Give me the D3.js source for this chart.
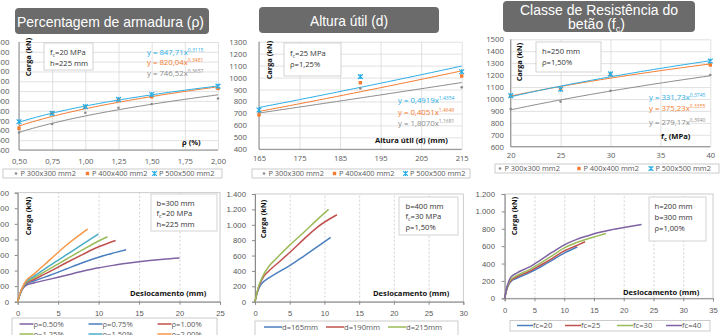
<!DOCTYPE html>
<html><head><meta charset="utf-8">
<script src="https://cdn.jsdelivr.net/npm/d3@7/dist/d3.min.js"></script>
<style>
html,body{margin:0;padding:0;background:#fff;overflow:hidden;}
svg{display:block;font-family:"Open Sans",sans-serif;}
</style></head><body>
<svg id="c" width="723" height="335"></svg>
<script>
// ---------------- DATA ----------------
const seriesNames = ["P 300x300 mm2", "P 400x400 mm2", "P 500x500 mm2"];

// Panel 1: reinforcement ratio
const rhoX = [0.5, 0.75, 1.0, 1.25, 1.5, 2.0];
const rhoP300 = [578, 665, 780, 830, 868, 925];
const rhoP400 = [622, 778, 835, 912, 942, 1027];
const rhoP500 = [688, 773, 842, 915, 965, 1050];
const rhoFitA = [746.52, 820.04, 847.71];
const rhoFitB = [0.3657, 0.3481, 0.3115];
const rhoEqMain = ["y = 746,52x", "y = 820,04x", "y = 847,71x"];
const rhoEqExp = ["0,3657", "0,3481", "0,3115"];
const rhoXTicks = [0.5, 0.75, 1.0, 1.25, 1.5, 1.75, 2.0];
const rhoYTicks = [400, 500, 600, 700, 800, 900, 1000, 1100, 1200, 1300, 1400, 1500];

// Panel 2: effective depth
const dX = [165, 190, 215];
const dP300 = [705, 910, 918];
const dP400 = [688, 957, 1013];
const dP500 = [729, 1008, 1049];
const dFitA = [1.8070, 0.4051, 0.4919];
const dFitB = [1.1681, 1.4646, 1.4354];
const dEqMain = ["y = 1,8070x", "y = 0,4051x", "y = 0,4919x"];
const dEqExp = ["1,1681", "1,4646", "1,4354"];
const dXTicks = [165, 175, 185, 195, 205, 215];
const dYTicks = [400, 500, 600, 700, 800, 900, 1000, 1100, 1200, 1300];

// Panel 3: concrete class
const fcX = [20, 25, 30, 40];
const fcP300 = [916, 978, 1068, 1201];
const fcP400 = [1025, 1080, 1203, 1285];
const fcP500 = [1028, 1081, 1210, 1318];
const fcFitA = [279.17, 375.23, 331.73];
const fcFitB = [0.3940, 0.3355, 0.3745];
const fcEqMain = ["y = 279,17x", "y = 375,23x", "y = 331,73x"];
const fcEqExp = ["0,3940", "0,3355", "0,3745"];
const fcXTicks = [20, 25, 30, 35, 40];
const fcYTicks = [600, 700, 800, 900, 1000, 1100, 1200, 1300, 1400, 1500];

// Panel 4: load-displacement, rho
const rhoCurveNames = ["ρ=0.50%", "ρ=0.75%", "ρ=1.00%", "ρ=1.25%", "ρ=1.50%", "ρ=2.00%"];
const rho050 = [[0,0],[0.3,100],[0.7,180],[1,208],[2,240],[4,290],[6,340],[8,390],[10,435],[12,470],[14,500],[16,525],[18,545],[20,560]];
const rho075 = [[0,0],[0.3,100],[0.7,188],[1,222],[2,265],[4,340],[6,420],[8,500],[10,572],[12,630],[13.4,668]];
const rho100 = [[0,0],[0.3,104],[0.7,194],[1,232],[2,285],[4,390],[6,500],[8,605],[10,705],[11,745],[12.1,785]];
const rho125 = [[0,0],[0.3,106],[0.7,200],[1,243],[2,305],[4,425],[6,545],[8,665],[10,780],[11.1,835]];
const rho150 = [[0,0],[0.3,108],[0.7,205],[1,253],[2,325],[4,465],[6,600],[8,735],[9.96,870]];
const rho200 = [[0,0],[0.3,110],[0.7,210],[1,265],[2,355],[4,540],[6,725],[8,885],[8.65,932]];
const dispXTicks25 = [0, 5, 10, 15, 20, 25];
const loadYTicks1400 = [0, 200, 400, 600, 800, 1000, 1200, 1400];

// Panel 5: load-displacement, d
const dCurveNames = ["d=165mm", "d=190mm", "d=215mm"];
const d165 = [[0,0],[0.3,110],[0.7,200],[1,240],[2,310],[3,365],[5,470],[7,590],[9,715],[10.9,835]];
const d190 = [[0,0],[0.3,120],[0.7,230],[1,290],[2,400],[3,480],[5,640],[7,810],[9,970],[11.8,1130]];
const d215 = [[0,0],[0.3,125],[0.7,245],[1,310],[2,460],[3,555],[5,735],[7,900],[9,1070],[10.6,1200]];
const dispXTicks30 = [0, 5, 10, 15, 20, 25, 30];

// Panel 6: load-displacement, fc
const fcCurveNames = ["fc=20", "fc=25", "fc=30", "fc=40"];
const fc20 = [[0,0],[0.3,90],[0.7,160],[1,190],[2,230],[4,290],[6,360],[8,440],[10,520],[12.2,590]];
const fc25 = [[0,0],[0.3,95],[0.7,170],[1,200],[2,245],[4,305],[6,380],[8,460],[10,545],[12,605],[13.5,650]];
const fc30 = [[0,0],[0.3,100],[0.7,180],[1,215],[2,260],[4,325],[6,405],[8,490],[10,580],[12,640],[14,685],[15.5,715],[17,745]];
const fc40 = [[0,0],[0.3,110],[0.7,200],[1,240],[2,290],[4,355],[6,440],[8,530],[10,615],[12,675],[14,720],[16,760],[18,790],[20,815],[23,850]];
const dispXTicks35 = [0, 5, 10, 15, 20, 25, 30, 35];
const loadYTicks1200 = [0, 200, 400, 600, 800, 1000, 1200];

// ---------------- STYLE ----------------
const C = {grey:"#8c8c8c", orange:"#f47b30", blue:"#29aee6",
  purple:"#7e62a3", eblue:"#4a7ebf", red:"#c0504d", green:"#9bbb59", teal:"#4bacc6", eorange:"#f79646"};
const markerCols = [C.grey, C.orange, C.blue];
const TXT = "#595959";
const svg = d3.select("#c");
const ptBR = d3.formatLocale({decimal:",", thousands:".", grouping:[3], currency:["",""]});
const fmtThou = ptBR.format(",");
const fmt2 = ptBR.format(".2f");

function writeParts(t, parts, subSize, subDy){
  let shifted = false;
  parts.forEach(p=>{
    const ts = t.append("tspan").text(p.t);
    if(p.sub){ ts.attr("dy", subDy).style("font-size", subSize+"px"); shifted = true; }
    else if(shifted){ ts.attr("dy", -subDy); shifted = false; }
  });
}

function titleBox(x0, x1, y0, y1, lines, size){
  svg.append("rect").attr("x",x0).attr("y",y0).attr("width",x1-x0).attr("height",y1-y0)
    .attr("rx",4).attr("fill","#6b6b6b");
  lines.forEach(ln=>{
    const t = svg.append("text").attr("x",ln.x).attr("y",ln.y)
      .attr("fill","#fff").style("font-family","'Liberation Sans',Arial,sans-serif").style("font-size",(ln.size||size)+"px")
      .attr("textLength", ln.w).attr("lengthAdjust","spacingAndGlyphs");
    writeParts(t, ln.parts, (ln.size||size)*0.65, 3);
  });
}

function annot(x0,y0,w,h,tx,lines){
  svg.append("rect").attr("x",x0).attr("y",y0).attr("width",w).attr("height",h)
    .attr("fill","#fff").attr("stroke","#c8c8c8").attr("stroke-width",0.8);
  lines.forEach(ln=>{
    const t = svg.append("text").attr("x",tx).attr("y",ln.y).attr("fill","#333").style("font-size","7.6px");
    writeParts(t, ln.parts, 5.2, 1.5);
  });
}

function yTitle(x, cy){
  svg.append("text").attr("transform",`translate(${x},${cy}) rotate(-90)`).attr("text-anchor","middle")
    .attr("fill","#111").style("font-size","7.4px").style("font-weight","bold").text("Carga (kN)");
}

function axesTop(x, y, xTicks, yTicks, xFmt, yLabelRight, xLabelY){
  const [xa,xb]=x.range(), [yb,ya]=y.range();
  const g = svg.append("g");
  g.append("g").attr("transform",`translate(0,${yb})`)
    .call(d3.axisBottom(x).tickValues(xTicks).tickSize(-(yb-ya)).tickFormat(""))
    .call(s=>{s.select(".domain").remove(); s.selectAll("line").attr("stroke","#d9d9d9").attr("stroke-width",0.8);});
  g.append("g").attr("transform",`translate(${xa},0)`)
    .call(d3.axisLeft(y).tickValues(yTicks).tickSize(-(xb-xa)).tickFormat(""))
    .call(s=>{s.select(".domain").remove(); s.selectAll("line").attr("stroke","#d9d9d9").attr("stroke-width",0.8);});
  g.append("g").attr("transform",`translate(${yLabelRight},0)`)
    .call(d3.axisLeft(y).tickValues(yTicks).tickSize(0).tickPadding(0).tickFormat(d=>String(d)))
    .call(s=>{s.select(".domain").remove(); s.selectAll("text").attr("fill",TXT).style("font-size","7.8px").style("font-family","'Open Sans',sans-serif");});
  g.append("g").attr("transform",`translate(0,${xLabelY})`)
    .call(d3.axisBottom(x).tickValues(xTicks).tickSize(0).tickPadding(0).tickFormat(xFmt))
    .call(s=>{s.select(".domain").remove(); s.selectAll("text").attr("fill",TXT).attr("dy","0.32em").style("font-size","7.6px").style("font-family","'Open Sans',sans-serif");});
  g.append("line").attr("x1",xa).attr("x2",xa).attr("y1",ya).attr("y2",yb).attr("stroke","#8a8a8a").attr("stroke-width",1);
  g.append("line").attr("x1",xa).attr("x2",xb).attr("y1",yb).attr("y2",yb).attr("stroke","#8a8a8a").attr("stroke-width",1);
}

function marker(g, kind, cx, cy){
  if(kind===0){
    g.append("circle").attr("cx",cx).attr("cy",cy).attr("r",1.3).attr("fill",C.grey);
  } else if(kind===1){
    g.append("rect").attr("x",cx-1.7).attr("y",cy-1.7).attr("width",3.4).attr("height",3.4).attr("fill",C.orange);
  } else {
    const s=2.4;
    g.append("path").attr("d",`M${cx-s},${cy-s}L${cx+s},${cy+s}M${cx-s},${cy+s}L${cx+s},${cy-s}M${cx},${cy-s}L${cx},${cy+s}`)
      .attr("stroke",C.blue).attr("stroke-width",1.2).attr("fill","none");
  }
}

function topSeries(x, y, xs, ys3, fitA, fitB){
  const g = svg.append("g");
  const lo = d3.min(xs), hi = d3.max(xs);
  const samples = d3.range(0, 61).map(i => lo + (hi-lo)*i/60);
  [0,1,2].forEach(k=>{
    const line = d3.line().x(d=>x(d)).y(d=>y(fitA[k]*Math.pow(d,fitB[k])));
    g.append("path").attr("d",line(samples)).attr("fill","none").attr("stroke",markerCols[k]).attr("stroke-width",1);
  });
  [0,1,2].forEach(k=>{
    xs.forEach((xv,i)=>marker(g,k,x(xv),y(ys3[k][i])));
  });
}

function equations(xLeft, ys, mains, exps){
  [2,1,0].forEach((k,i)=>{
    const t = svg.append("text").attr("x",xLeft).attr("y",ys[i]).attr("fill",markerCols[k]).style("font-size","7.8px");
    t.append("tspan").text(mains[k]);
    t.append("tspan").attr("dy",-3).style("font-size","5px").text(exps[k]);
  });
}

function topLegend(x0,x1,y0,y1,itemX){
  svg.append("rect").attr("x",x0).attr("y",y0).attr("width",x1-x0).attr("height",y1-y0)
    .attr("fill","#fff").attr("stroke","#bfbfbf").attr("stroke-width",0.8);
  const g = svg.append("g");
  const cy=(y0+y1)/2;
  itemX.forEach((mx,k)=>{
    marker(g,k,mx,cy);
    g.append("text").attr("x",mx+4.5).attr("y",cy).attr("dy","0.34em").attr("fill",TXT).style("font-size","7.4px").text(seriesNames[k]);
  });
}

function axisTitle(xL, yB, parts){
  const t = svg.append("text").attr("x",xL).attr("y",yB).attr("fill","#111").style("font-size","7.6px").style("font-weight","bold");
  writeParts(t, parts, 5.5, 1.8);
}

// ------------- PANEL 1 -------------
titleBox(15, 209, 8, 34, [{x:17, y:26.5, w:187, parts:[{t:"Percentagem de armadura (ρ)"}]}], 15);
{
  const x = d3.scaleLinear([0.5,2.0],[19,218]);
  const y = d3.scaleLinear([400,1500],[150,42]);
  axesTop(x,y,rhoXTicks,rhoYTicks,d=>fmt2(d),9.5,162);
  annot(44,43,49,27,50,[{y:55,parts:[{t:"f"},{t:"c",sub:true},{t:"=20 MPa"}]},{y:65.5,parts:[{t:"h=225 mm"}]}]);
  yTitle(30.5,57);
  topSeries(x,y,rhoX,[rhoP300,rhoP400,rhoP500],rhoFitA,rhoFitB);
  equations(147,[55,65,76],rhoEqMain,rhoEqExp);
  axisTitle(182,145,[{t:"ρ (%)"}]);
  topLegend(3,222,169,178,[16,87.5,154.5]);
}
// ------------- PANEL 2 -------------
titleBox(259, 439, 7, 33, [{x:310, y:25.5, w:78, parts:[{t:"Altura útil (d)"}]}], 15);
{
  const x = d3.scaleLinear([165,215],[259,461.7]);
  const y = d3.scaleLinear([400,1300],[149.3,41.7]);
  axesTop(x,y,dXTicks,dYTicks,d=>String(d),247,159);
  annot(284,43,57,33,290,[{y:56,parts:[{t:"f"},{t:"c",sub:true},{t:"=25 MPa"}]},{y:66.5,parts:[{t:"ρ=1,25%"}]}]);
  yTitle(271.5,60);
  topSeries(x,y,dX,[dP300,dP400,dP500],dFitA,dFitB);
  equations(398,[103,115,126],dEqMain,dEqExp);
  axisTitle(375,143,[{t:"Altura útil (d) (mm)"}]);
  topLegend(252,470,169,178,[264,334.5,405.5]);
}
// ------------- PANEL 3 -------------
titleBox(503, 695, 1, 32, [{x:520, y:14.5, w:158, size:14, parts:[{t:"Classe de Resistência do"}]},{x:568, y:29, w:57, size:14, parts:[{t:"betão (f"},{t:"c",sub:true},{t:")"}]}], 15);
{
  const x = d3.scaleLinear([20,40],[510.7,710.3]);
  const y = d3.scaleLinear([600,1500],[146.7,39.3]);
  axesTop(x,y,fcXTicks,fcYTicks,d=>String(d),504,156);
  annot(536,42,65,30,542,[{y:54,parts:[{t:"h=250 mm"}]},{y:64.5,parts:[{t:"ρ=1,50%"}]}]);
  yTitle(522,62);
  topSeries(x,y,fcX,[fcP300,fcP400,fcP500],fcFitA,fcFitB);
  equations(649,[100,111,125],fcEqMain,fcEqExp);
  axisTitle(661,139,[{t:"f"},{t:"c",sub:true},{t:" (MPa)"}]);
  topLegend(495,719,164,173,[500,579,651]);
}

// ------------- BOTTOM PANELS -------------
function axesBottom(x, y, xTicks, yTicks, yLabelRight, xLabelY){
  const [xa,xb]=x.range(), [yb,ya]=y.range();
  const g = svg.append("g");
  g.append("rect").attr("x",xa).attr("y",ya).attr("width",xb-xa).attr("height",yb-ya)
    .attr("fill","none").attr("stroke","#bfbfbf").attr("stroke-width",0.8);
  g.append("g").attr("transform",`translate(0,${yb})`)
    .call(d3.axisBottom(x).tickValues(xTicks.slice(1,-1)).tickSize(-(yb-ya)).tickFormat(""))
    .call(s=>{s.select(".domain").remove(); s.selectAll("line").attr("stroke","#c8c8c8").attr("stroke-width",0.8).attr("stroke-dasharray","2,2");});
  g.append("g").attr("transform",`translate(${xa},0)`)
    .call(d3.axisLeft(y).tickValues(yTicks).tickSize(3).tickFormat(""))
    .call(s=>{s.select(".domain").attr("stroke","#8a8a8a"); s.selectAll("line").attr("stroke","#8a8a8a");});
  g.append("g").attr("transform",`translate(0,${yb})`)
    .call(d3.axisBottom(x).tickValues(xTicks).tickSize(3).tickFormat(""))
    .call(s=>{s.select(".domain").attr("stroke","#8a8a8a"); s.selectAll("line").attr("stroke","#8a8a8a");});
  g.append("g").attr("transform",`translate(${yLabelRight},0)`)
    .call(d3.axisLeft(y).tickValues(yTicks).tickSize(0).tickPadding(0).tickFormat(d=>fmtThou(d)))
    .call(s=>{s.select(".domain").remove(); s.selectAll("text").attr("fill",TXT).style("font-size","7.8px");});
  g.append("g").attr("transform",`translate(0,${xLabelY})`)
    .call(d3.axisBottom(x).tickValues(xTicks).tickSize(0).tickPadding(0).tickFormat(d=>String(d)))
    .call(s=>{s.select(".domain").remove(); s.selectAll("text").attr("fill",TXT).attr("dy","0.32em").style("font-size","7.6px");});
}

function curves(x,y,list,cols){
  const line = d3.line().x(d=>x(d[0])).y(d=>y(d[1])).curve(d3.curveMonotoneX);
  list.forEach((c,i)=>svg.append("path").attr("d",line(c)).attr("fill","none").attr("stroke",cols[i]).attr("stroke-width",1.5));
}

function lineLegend(x0,x1,y0,y1,items){
  svg.append("rect").attr("x",x0).attr("y",y0).attr("width",x1-x0).attr("height",y1-y0)
    .attr("fill","#fff").attr("stroke","#bfbfbf").attr("stroke-width",0.8);
  items.forEach(it=>{
    svg.append("line").attr("x1",it.lx).attr("x2",it.lx+(it.lw||15)).attr("y1",it.y).attr("y2",it.y).attr("stroke",it.c).attr("stroke-width",1.5);
    svg.append("text").attr("x",it.lx+(it.lw||15)).attr("y",it.y).attr("dy","0.34em").attr("fill",TXT).style("font-size","7.6px").text(it.t);
  });
}

// Panel 4
{
  const x = d3.scaleLinear([0,25],[17.7,220]);
  const y = d3.scaleLinear([0,1400],[301.7,192.7]);
  axesBottom(x,y,dispXTicks25,loadYTicks1400,9,314);
  yTitle(30.5,216);
  curves(x,y,[rho050,rho075,rho100,rho125,rho150,rho200],[C.purple,C.eblue,C.red,C.green,C.teal,C.eorange]);
  annot(151,194,66,37,156.5,[{y:205.5,parts:[{t:"b=300 mm"}]},{y:216,parts:[{t:"f"},{t:"c",sub:true},{t:"=20 MPa"}]},{y:227,parts:[{t:"h=225 mm"}]}]);
  axisTitle(130,296,[{t:"Deslocamento (mm)"}]);
  const cols=[C.purple,C.eblue,C.red,C.green,C.teal,C.eorange];
  lineLegend(12,217,318,342,rhoCurveNames.map((t,i)=>({t, c:cols[i], lx:[19.5,88.5,157.5][i%3], y: i<3?324:334, lw:14})));
}
// Panel 5
{
  const x = d3.scaleLinear([0,30],[255,463.3]);
  const y = d3.scaleLinear([0,1400],[301.7,194]);
  axesBottom(x,y,dispXTicks30,loadYTicks1400,246,314);
  yTitle(266,219);
  curves(x,y,[d165,d190,d215],[C.eblue,C.red,C.green]);
  annot(399,197,59,38,405.5,[{y:208.5,parts:[{t:"b=400 mm"}]},{y:219,parts:[{t:"f"},{t:"c",sub:true},{t:"=30 MPa"}]},{y:230,parts:[{t:"ρ=1,50%"}]}]);
  axisTitle(373,296,[{t:"Deslocamento (mm)"}]);
  const cols=[C.eblue,C.red,C.green];
  lineLegend(255,458,321,342,dCurveNames.map((t,i)=>({t,c:cols[i],lx:[264,326,388][i],y:327,lw:18})));
}
// Panel 6
{
  const x = d3.scaleLinear([0,35],[504.7,713]);
  const y = d3.scaleLinear([0,1200],[298.3,194]);
  axesBottom(x,y,dispXTicks35,loadYTicks1200,495,310.5);
  yTitle(517,216);
  curves(x,y,[fc20,fc25,fc30,fc40],[C.eblue,C.red,C.green,C.purple]);
  annot(649,197,57,44,654.5,[{y:209,parts:[{t:"h=200 mm"}]},{y:220,parts:[{t:"b=300 mm"}]},{y:230.5,parts:[{t:"ρ=1,00%"}]}]);
  axisTitle(623,295,[{t:"Deslocamento (mm)"}]);
  const cols=[C.eblue,C.red,C.green,C.purple];
  lineLegend(510,710,320.5,331,fcCurveNames.map((t,i)=>({t,c:cols[i],lx:[517,565,617,666][i],y:325.5,lw:16})));
}
</script></body></html>
